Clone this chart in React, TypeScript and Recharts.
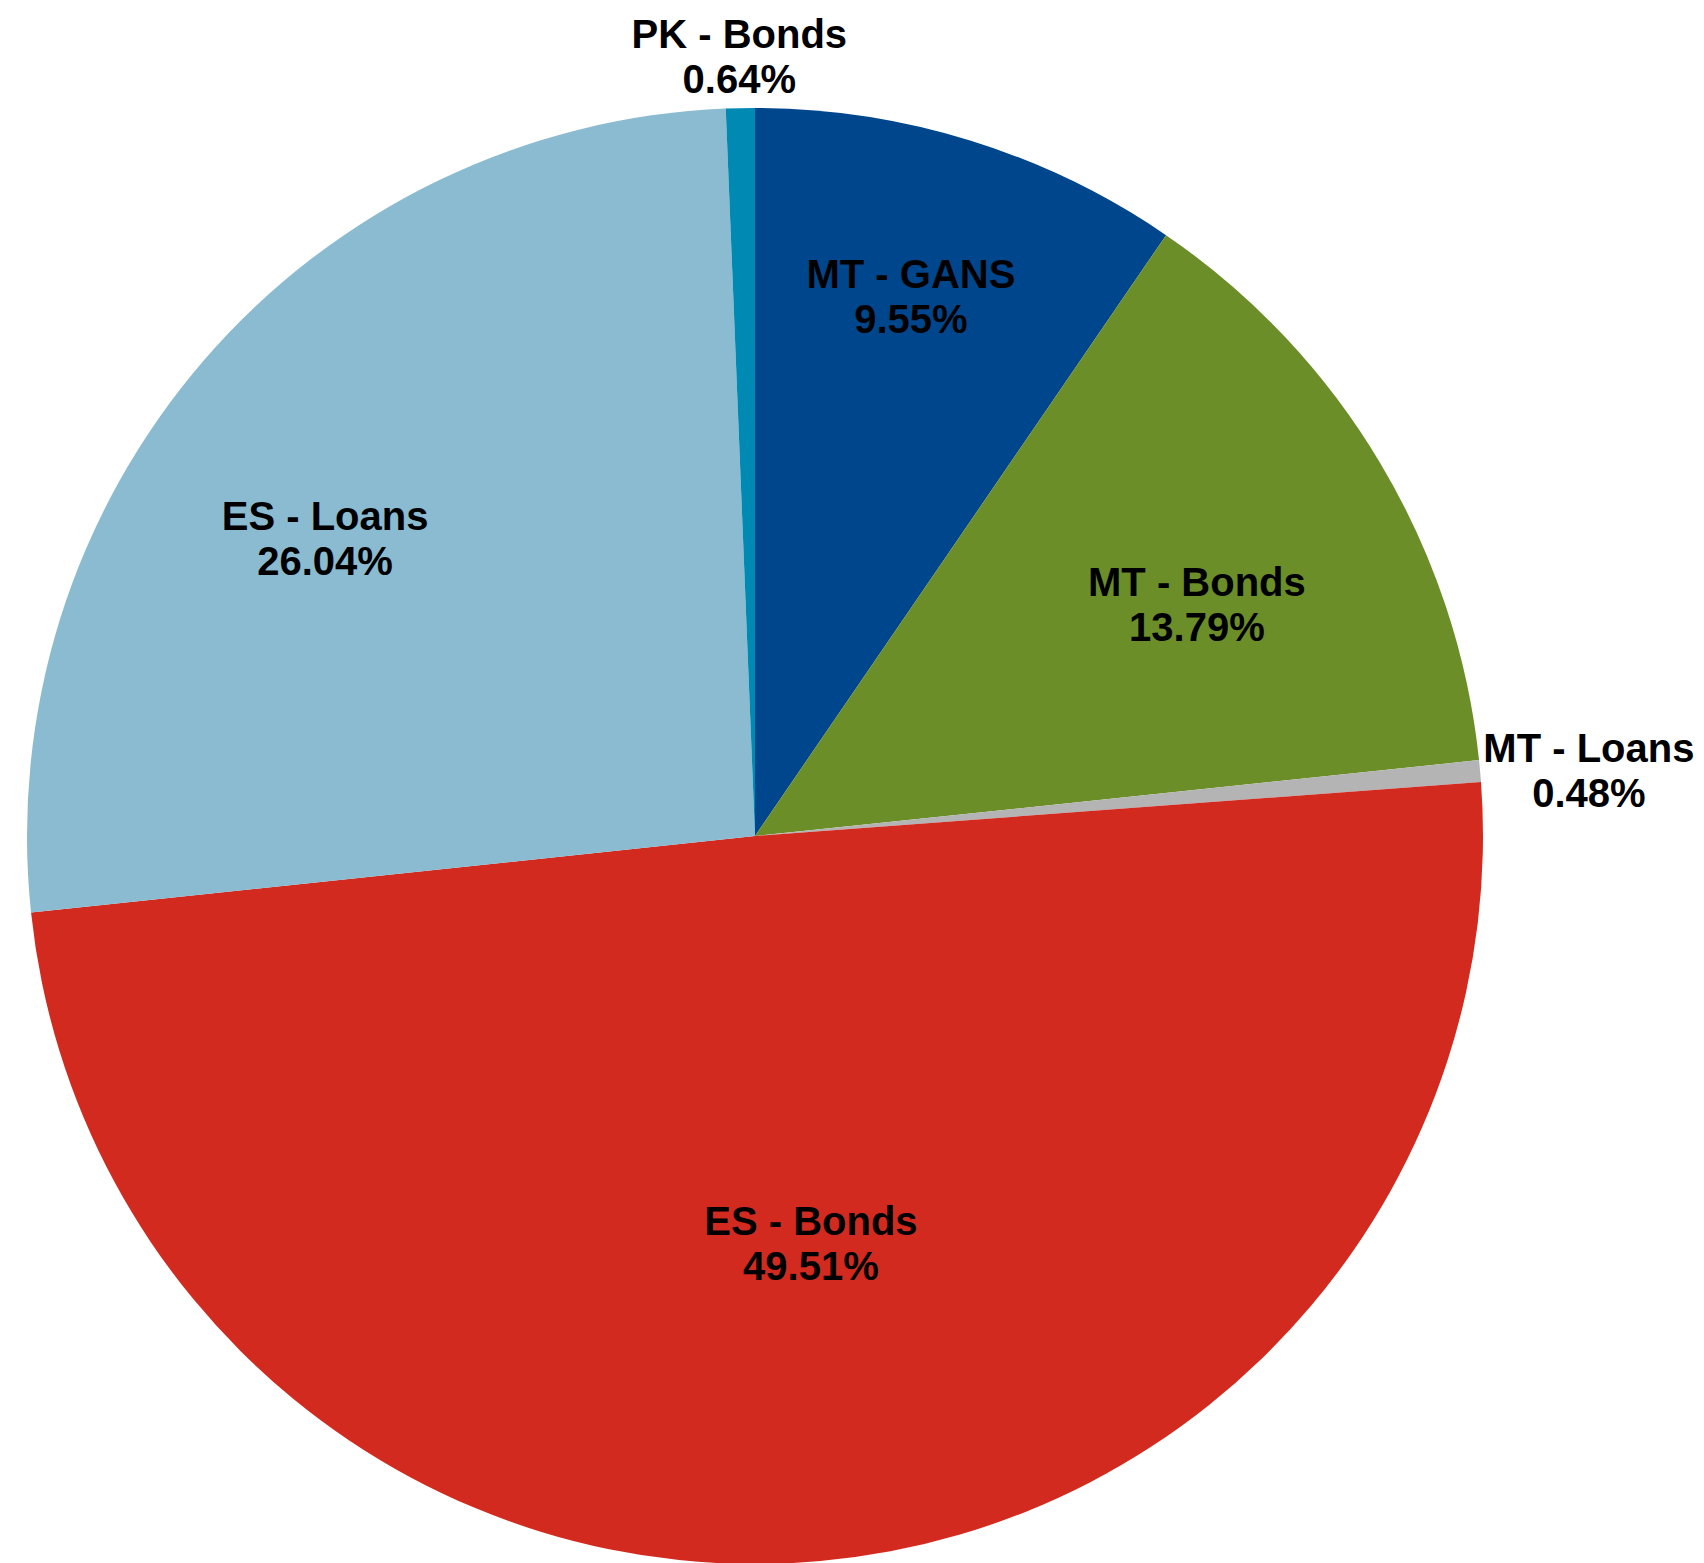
import { PieChart, Pie, Cell } from "recharts";

const CATEGORIES = ["MT - GANS", "MT - Bonds", "MT - Loans", "ES - Bonds", "ES - Loans", "PK - Bonds"];
const SHARES = [9.55, 13.79, 0.48, 49.51, 26.04, 0.64];
const COLORS = ["#00468C", "#6B8E29", "#B4B4B4", "#D32A20", "#8ABBD0", "#0089B3"];

// label placement: radius as a fraction of the pie radius, plus angle tweak (deg) from mid-angle
const LABEL_LAYOUT = [
  { r: 0.771, da: 1.06 },
  { r: 0.685, da: -3.2 },
  { r: 1.149, da: -0.62 },
  { r: 0.565, da: 2.67 },
  { r: 0.718, da: 6.16 },
  { r: 1.071, da: 0 },
];

const W = 1704;
const H = 1563;
const CX = 755;
const CY = 836;
const R = 728;
const FONT = "'Liberation Sans', Arial, Helvetica, sans-serif";

const rows = CATEGORIES.map((name, i) => ({ name, value: SHARES[i] }));

function SliceLabel(props: any) {
  const { cx, cy, midAngle, outerRadius, index } = props;
  const lay = LABEL_LAYOUT[index];
  const a = ((midAngle + lay.da) * Math.PI) / 180;
  const x = cx + outerRadius * lay.r * Math.cos(a);
  const y = cy - outerRadius * lay.r * Math.sin(a);
  return (
    <text
      x={x}
      y={y - 8.5}
      textAnchor="middle"
      fontFamily={FONT}
      fontWeight="bold"
      fontSize={40}
      fill="#000"
    >
      <tspan x={x} y={y - 8.5}>
        {CATEGORIES[index]}
      </tspan>
      <tspan x={x} y={y + 36.5}>
        {SHARES[index].toFixed(2)}%
      </tspan>
    </text>
  );
}

export default function App() {
  return (
    <div style={{ position: "absolute", left: 0, top: 0, width: W, height: H, background: "#fff" }}>
      <PieChart width={W} height={H} margin={{ top: 0, right: 0, bottom: 0, left: 0 }}>
        <Pie
          data={rows}
          dataKey="value"
          nameKey="name"
          cx={CX}
          cy={CY}
          innerRadius={0}
          outerRadius={R}
          startAngle={90}
          endAngle={-270}
          stroke="none"
          label={SliceLabel}
          labelLine={false}
          isAnimationActive={false}
        >
          {rows.map((r, i) => (
            <Cell key={r.name} fill={COLORS[i]} />
          ))}
        </Pie>
      </PieChart>
    </div>
  );
}
